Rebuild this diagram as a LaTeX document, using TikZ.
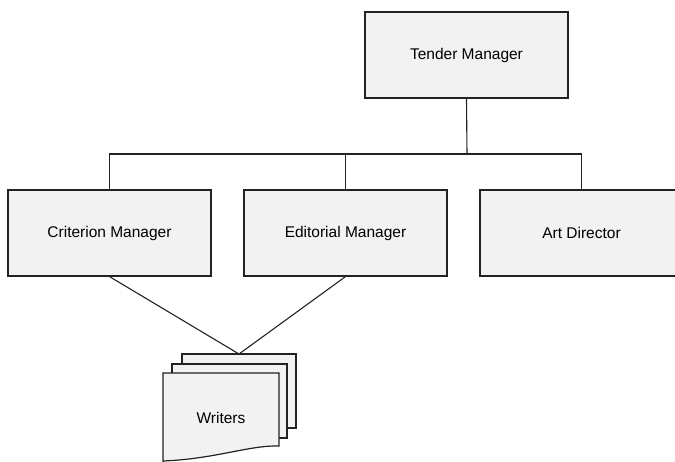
\documentclass[tikz,border=0pt]{standalone}
\usepackage{fontspec}
\setmainfont{Liberation Sans}
\definecolor{boxfill}{HTML}{F2F2F2}
\definecolor{edge}{HTML}{222222}
\begin{document}
\begin{tikzpicture}[x=1pt,y=-1pt,
  role/.style={draw=edge, fill=boxfill, line width=1.2pt,
    minimum width=203pt, minimum height=86pt, inner sep=0pt,
    font=\fontsize{15.5}{18}\selectfont},
  link/.style={draw=edge, line width=1.1pt},
  page/.style={draw=edge, fill=boxfill, line width=1.2pt, line join=miter}]
\useasboundingbox (0,0) rectangle (675,461);
\clip (0,0) rectangle (675,461);

% org boxes
\node[role] (tender) at (466.5,55) {Tender Manager};
\node[role] (crit) at (109.5,233) {Criterion Manager};
\node[role] (edit) at (345.5,233) {Editorial Manager};
\node[role] (art) at (581.5,233) {Art Director};

% bus joining the three roles to the tender manager
\coordinate (bus) at (467,154);
\draw[link] (tender.south) -- (bus);
\draw[link] (crit.north) |- (bus) -| (art.north);
\draw[link] (edit.north) -- (edit.north |- bus);

% stacked writer documents
\draw[page] (182,428) -- (182,354) -- (296,354) -- (296,428) -- (287,428);
\draw[page] (172,438) -- (172,364) -- (287,364) -- (287,438) -- (278,438);
\draw[page] (163,470) -- (163,373) -- (279,373) -- (279,446)
  .. controls (250,445) and (215,459) .. (163,461) -- cycle;
\node[font=\fontsize{15.5}{18}\selectfont] (writers) at (221,418) {Writers};
\coordinate (stack) at (239,354);

\draw[link] (crit.south) -- (stack);
\draw[link] (edit.south) -- (stack);
\end{tikzpicture}
\end{document}
